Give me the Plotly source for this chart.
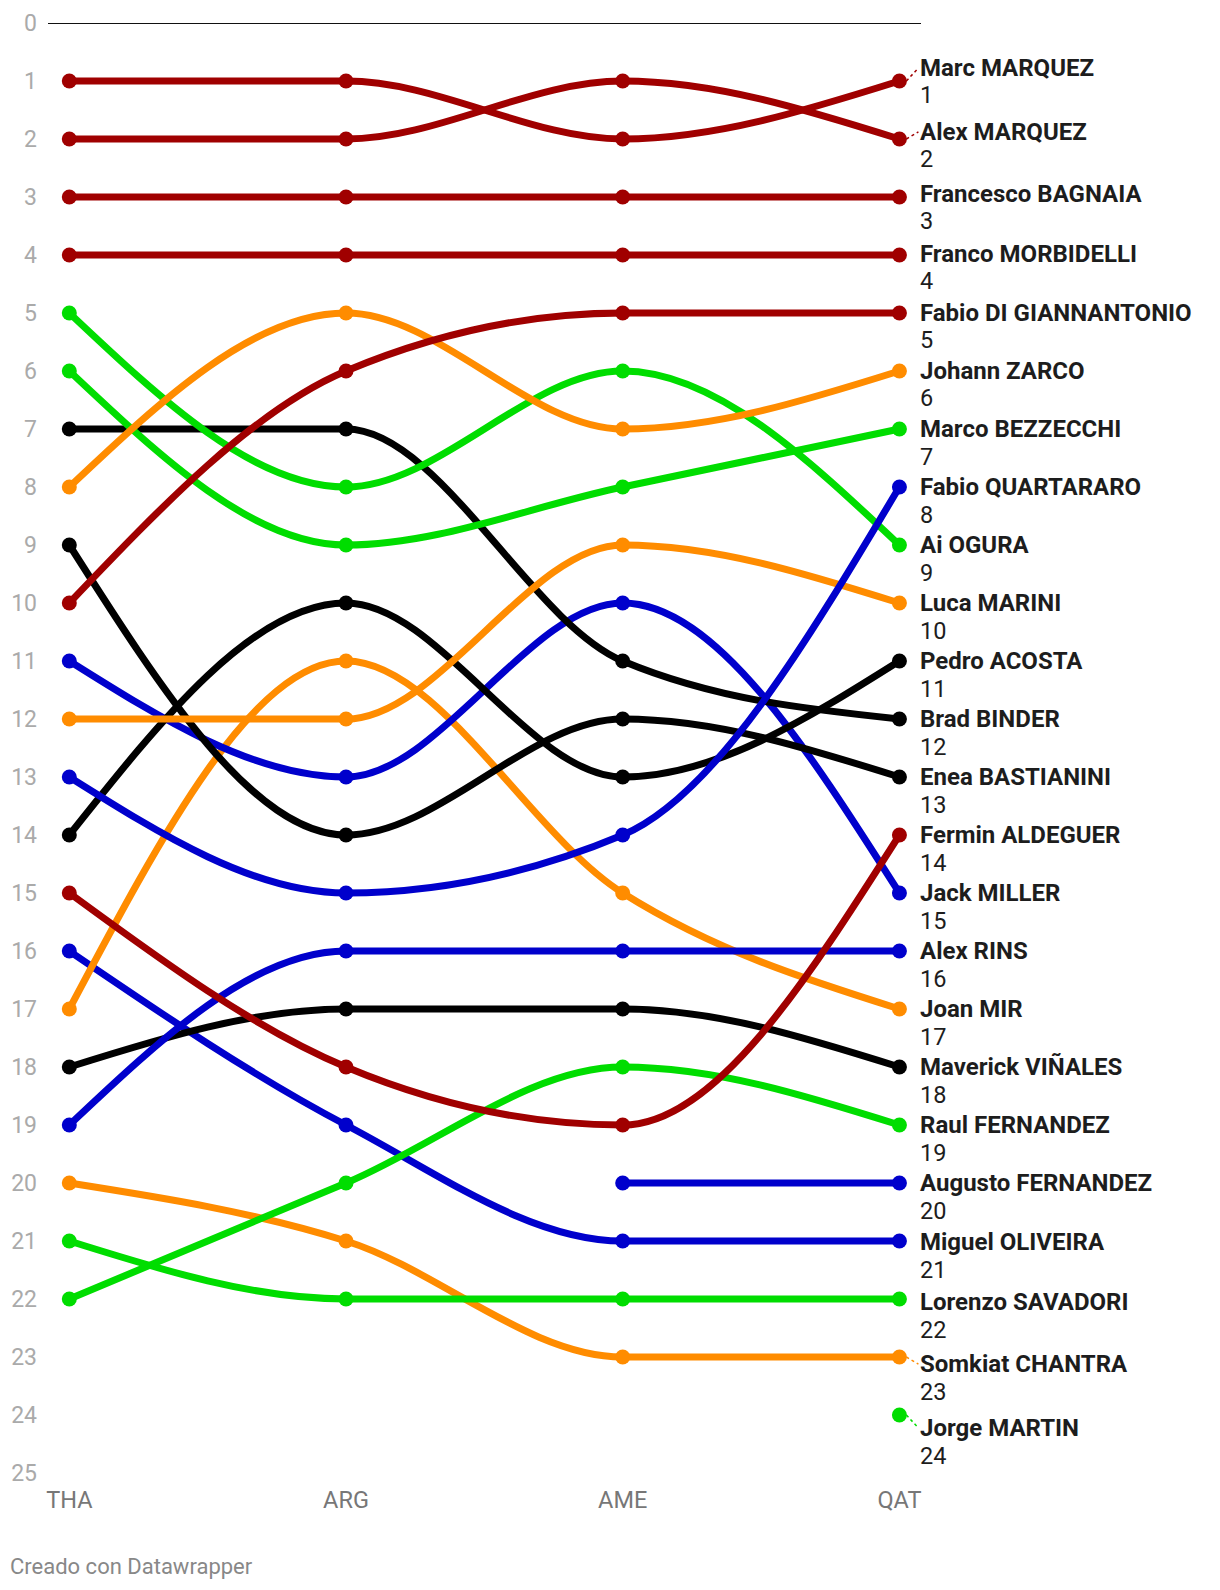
import plotly.graph_objects as go

# race rounds
races = ["THA", "ARG", "AME", "QAT"]

# riders, listed by standing after the last round
riders = [
    "Marc MARQUEZ", "Alex MARQUEZ", "Francesco BAGNAIA", "Franco MORBIDELLI",
    "Fabio DI GIANNANTONIO", "Johann ZARCO", "Marco BEZZECCHI", "Fabio QUARTARARO",
    "Ai OGURA", "Luca MARINI", "Pedro ACOSTA", "Brad BINDER",
    "Enea BASTIANINI", "Fermin ALDEGUER", "Jack MILLER", "Alex RINS",
    "Joan MIR", "Maverick VIÑALES", "Raul FERNANDEZ", "Augusto FERNANDEZ",
    "Miguel OLIVEIRA", "Lorenzo SAVADORI", "Somkiat CHANTRA", "Jorge MARTIN",
]

# championship position after each round (None = not classified yet)
positions = [
    [1, 1, 2, 1],
    [2, 2, 1, 2],
    [3, 3, 3, 3],
    [4, 4, 4, 4],
    [10, 6, 5, 5],
    [8, 5, 7, 6],
    [6, 9, 8, 7],
    [13, 15, 14, 8],
    [5, 8, 6, 9],
    [12, 12, 9, 10],
    [14, 10, 13, 11],
    [7, 7, 11, 12],
    [9, 14, 12, 13],
    [15, 18, 19, 14],
    [11, 13, 10, 15],
    [19, 16, 16, 16],
    [17, 11, 15, 17],
    [18, 17, 17, 18],
    [22, 20, 18, 19],
    [None, None, 20, 20],
    [16, 19, 21, 21],
    [21, 22, 22, 22],
    [20, 21, 23, 23],
    [None, None, None, 24],
]

# colour group of each rider
groups = [
    "red", "red", "red", "red", "red", "orange", "green", "blue",
    "green", "orange", "black", "black", "black", "red", "blue", "blue",
    "orange", "black", "green", "blue", "blue", "green", "orange", "green",
]

palette = {
    "red": "#a00000",
    "orange": "#ff8c00",
    "green": "#00dd00",
    "blue": "#0000cc",
    "black": "#000000",
}

FONT = "Roboto, Arial, sans-serif"
PX_PER_UNIT = 58.0


def sign(v):
    return (v > 0) - (v < 0)


def monotone_path(xv, yv):
    """SVG path (data coords) of a monotone-x cubic curve through the points."""
    n = len(xv)
    if n == 2:
        return f"M {xv[0]},{yv[0]} L {xv[1]},{yv[1]}"
    sec = [(yv[i + 1] - yv[i]) / (xv[i + 1] - xv[i]) for i in range(n - 1)]
    t = [0.0] * n
    for i in range(1, n - 1):
        h0, h1 = xv[i] - xv[i - 1], xv[i + 1] - xv[i]
        s0, s1 = sec[i - 1], sec[i]
        p = (s0 * h1 + s1 * h0) / (h0 + h1)
        t[i] = (sign(s0) + sign(s1)) * min(abs(s0), abs(s1), 0.5 * abs(p))
    t[0] = (3 * sec[0] - t[1]) / 2
    t[-1] = (3 * sec[-1] - t[-2]) / 2
    path = f"M {xv[0]},{yv[0]}"
    for i in range(n - 1):
        dx = (xv[i + 1] - xv[i]) / 3
        path += (f" C {xv[i] + dx},{yv[i] + dx * t[i]}"
                 f" {xv[i + 1] - dx},{yv[i + 1] - dx * t[i + 1]}"
                 f" {xv[i + 1]},{yv[i + 1]}")
    return path


def spread_labels(values, min_gap, n_iter):
    """Push overlapping labels apart a little (simple relaxation)."""
    pos = [float(v) for v in values]
    for _ in range(n_iter):
        delta = [0.0] * len(pos)
        for i in range(len(pos) - 1):
            gap = pos[i + 1] - pos[i]
            if gap < min_gap:
                push = (min_gap - gap) / 2
                delta[i] -= push
                delta[i + 1] += push
        pos = [p + d for p, d in zip(pos, delta)]
    return pos


xs = list(range(len(races)))
fig = go.Figure()

for name, pos, grp in zip(riders[::-1], positions[::-1], groups[::-1]):
    color = palette[grp]
    px = [x for x, p in zip(xs, pos) if p is not None]
    py = [p for p in pos if p is not None]
    if len(px) > 1:
        fig.add_shape(type="path", xref="x", yref="y", layer="below",
                      path=monotone_path(px, py),
                      line=dict(color=color, width=7))
    fig.add_trace(go.Scatter(
        x=px, y=py, mode="markers", name=name,
        marker=dict(color=color, size=15),
        hoverinfo="skip",
    ))

# end labels
final = [p[-1] for p in positions]
order = sorted(range(len(riders)), key=lambda i: final[i])
label_y = spread_labels([final[i] for i in order], 66.5 / PX_PER_UNIT, 6)

for ly, i in zip(label_y, order):
    fig.add_annotation(
        x=xs[-1], y=ly, xref="x", yref="y", text=f"<b>{riders[i]}</b>",
        showarrow=False, xanchor="left", yanchor="middle", xshift=18.5,
        font=dict(family=FONT, size=24, color="#1d1d1d"),
    )
    fig.add_annotation(
        x=xs[-1], y=ly, xref="x", yref="y", text=str(final[i]),
        showarrow=False, xanchor="left", yanchor="middle", xshift=18.5, yshift=-27.5,
        font=dict(family=FONT, size=23.5, color="#1d1d1d"),
    )
    if abs(ly - final[i]) * PX_PER_UNIT > 4:
        fig.add_shape(
            type="line", xref="x", xsizemode="pixel", xanchor=xs[-1],
            x0=7, x1=19, yref="y", y0=final[i], y1=ly,
            line=dict(color=palette[groups[i]], width=1.5, dash="dot"),
        )

# line at zero
fig.add_shape(type="line", xref="paper", x0=0, x1=1, yref="y", y0=0, y1=0,
              line=dict(color="#111111", width=2), layer="below")

fig.add_annotation(
    x=0, y=0, xref="paper", yref="paper", text="Creado con Datawrapper",
    showarrow=False, xanchor="left", yanchor="middle", xshift=-40, yshift=-93.5,
    font=dict(family=FONT, size=22, color="#888888"),
)

fig.update_layout(
    width=1212, height=1582,
    margin=dict(l=40, r=299, t=15, b=116.5),
    paper_bgcolor="white", plot_bgcolor="white",
    showlegend=False,
    font=dict(family=FONT),
    xaxis=dict(
        range=[-0.077, 3.078], tickvals=xs, ticktext=races,
        showgrid=False, zeroline=False, showline=False, ticks="",
        tickfont=dict(family=FONT, size=23.5, color="#777777"),
        ticklabelstandoff=10, automargin=False,
    ),
    yaxis=dict(
        range=[25, 0], tickvals=list(range(0, 26)),
        showgrid=False, zeroline=False, showline=False, ticks="",
        tickfont=dict(family=FONT, size=23, color="#aaaaaa"),
        ticklabelstandoff=10, automargin=False,
    ),
)

fig.write_html("out.html")
